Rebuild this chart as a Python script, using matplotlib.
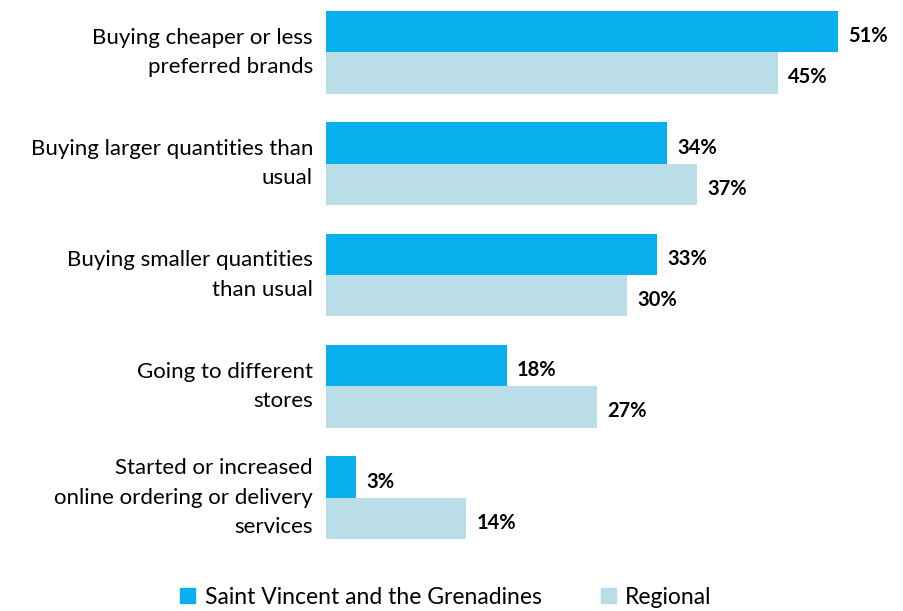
import matplotlib.pyplot as plt
from matplotlib.patches import Patch
import numpy as np

plt.rcParams['font.family'] = ['Lato', 'DejaVu Sans']

categories = [
    "Buying cheaper or less\npreferred brands",
    "Buying larger quantities than\nusual",
    "Buying smaller quantities\nthan usual",
    "Going to different\nstores",
    "Started or increased\nonline ordering or delivery\nservices",
]
svg_values = [51, 34, 33, 18, 3]
regional_values = [45, 37, 30, 27, 14]

blue = "#0AB0EE"
light = "#B9DEE8"

fig = plt.figure(figsize=(9.04, 6.11), dpi=100)
ax = fig.add_axes([326 / 904, 1 - 540 / 611, 570 / 904, 530 / 611])

y = np.arange(len(categories))
h = 0.37
ax.barh(y - h / 2, svg_values, height=h, color=blue)
ax.barh(y + h / 2, regional_values, height=h, color=light)

for yi, v in zip(y, svg_values):
    ax.text(v + 1.0, yi - h / 2 + 0.04, f"{v}%", va="center", ha="left",
            fontsize=14.5, fontweight="bold")
for yi, v in zip(y, regional_values):
    ax.text(v + 1.0, yi + h / 2 + 0.04, f"{v}%", va="center", ha="left",
            fontsize=14.5, fontweight="bold")

for yi, c in zip(y, categories):
    ax.text(-1.3, yi, c, ha="right", va="center", fontsize=16,
            linespacing=1.6)

ax.set_xlim(0, 56.8)
ax.set_ylim(4 + h + 0.01, -h - 0.01)
ax.axis("off")

handles = [Patch(color=blue, label="Saint Vincent and the Grenadines"),
           Patch(color=light, label="Regional")]
fig.legend(handles=handles, loc="center", bbox_to_anchor=(446 / 904, 1 - 597 / 611),
           ncol=2, frameon=False, fontsize=16.5, handlelength=0.65, handleheight=0.65,
           handletextpad=0.4, columnspacing=2.6)

fig.savefig("out.png", dpi=100)
